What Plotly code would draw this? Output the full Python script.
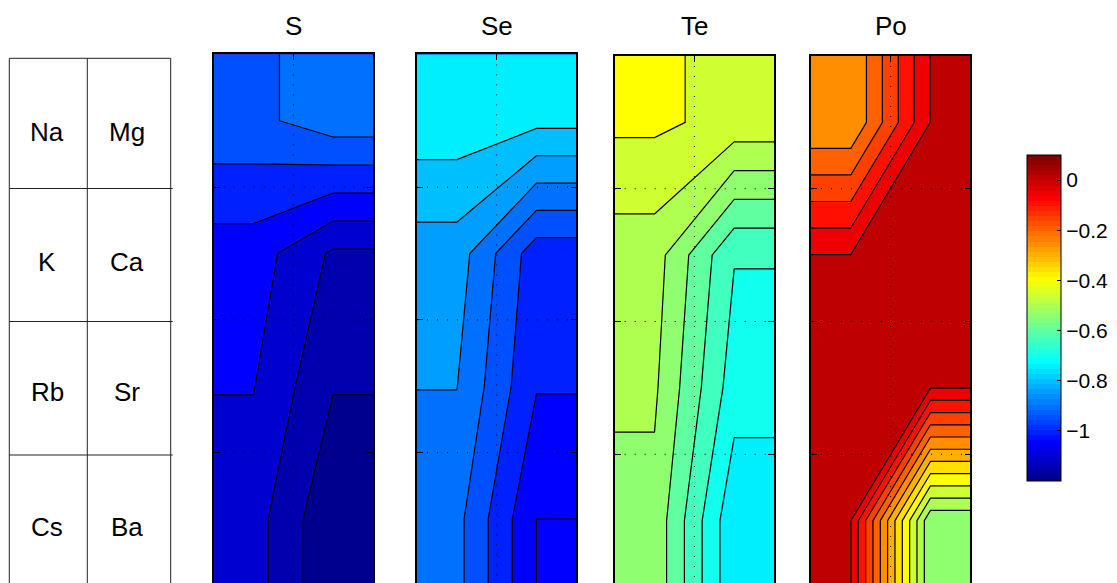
import numpy as np
import plotly.graph_objects as go

# ---- data -------------------------------------------------------------
ALKALI = ["Na", "K", "Rb", "Cs"]
ALKALINE_EARTH = ["Mg", "Ca", "Sr", "Ba"]
ANIONS = ["S", "Se", "Te", "Po"]

# one row per table row, columns = [alkali, alkaline earth]
S_VALUES = [[-0.914, -0.871],
            [-1.025, -1.108],
            [-1.048, -1.147],
            [-1.079, -1.193]]
SE_VALUES = [[-0.719, -0.736],
             [-0.825, -0.979],
             [-0.849, -0.997],
             [-0.885, -1.050]]
TE_VALUES = [[-0.390, -0.416],
             [-0.477, -0.647],
             [-0.492, -0.676],
             [-0.516, -0.740]]
PO_VALUES = [[-0.249, 0.001],
             [0.001, 0.020],
             [0.030, 0.001],
             [0.001, -0.542]]
PANEL_VALUES = [S_VALUES, SE_VALUES, TE_VALUES, PO_VALUES]

CMIN, CMAX = -1.2, 0.1
LEVEL_START, LEVEL_END, LEVEL_STEP = -1.2, 0.05, 0.05
COLORBAR_TICKS = [-1.0, -0.8, -0.6, -0.4, -0.2, 0.0]
GRID_X = [1.5]
GRID_Y = [1.5, 2.5, 3.5]

# ---- geometry (pixels) -------------------------------------------------
W, H = 1117, 583
PANEL_LEFT = [213.7, 417.0, 614.7, 811.0]
PANEL_TOP = [54.4, 54.4, 56.0, 56.0]
PANEL_WIDTH = 159.3
ROW_PX = 132.75
TITLE_Y = 26
TABLE_X = [9.3, 87.3, 170.7]
TABLE_Y = [58.3, 188.5, 321.5, 455.0]
TABLE_TEXT_X = [47.0, 126.5]
TABLE_TEXT_Y = [132.0, 261.5, 391.5, 526.5]
CB_LEFT, CB_TOP, CB_BOTTOM, CB_WIDTH = 1026.7, 155.0, 481.0, 34

FONT = "Liberation Sans, Arial, Helvetica, sans-serif"
EPS = 1e-9  # fills count a value equal to a level as above it; lines still trace it


def jet(m=64):
    """MATLAB-style jet colormap with m entries."""
    n = int(np.ceil(m / 4))
    u = np.concatenate([np.arange(1, n + 1) / n, np.ones(n - 1), np.arange(n, 0, -1) / n])
    g = int(np.ceil(n / 2)) - (1 if m % 4 == 1 else 0) + np.arange(1, len(u) + 1)
    r = g + n
    b = g - n
    cmap = np.zeros((m, 3))
    for col, idx in ((0, r), (1, g), (2, b)):
        ok = (idx >= 1) & (idx <= m)
        cmap[idx[ok] - 1, col] = u[ok]
    return cmap


def rgb(c):
    return "rgb(%d,%d,%d)" % tuple(int(round(255 * v)) for v in c)


JET = jet(64)


def jet_color(value):
    i = int(np.floor((value - CMIN) / (CMAX - CMIN) * 64 + 1e-9))
    return rgb(JET[min(max(i, 0), 63)])


# contour levels and the colour of each filled band (colour of its lower level)
n_levels = int(np.floor((LEVEL_END - LEVEL_START) / LEVEL_STEP + 1e-6)) + 1
levels = np.round(LEVEL_START + LEVEL_STEP * np.arange(n_levels), 6)
band_scale = [[0.0, jet_color(levels[0])]]
for k, lev in enumerate(levels):
    band_scale.append([(k + 1) / n_levels, jet_color(lev)])

# stepped colour scale for the colour bar
cb_scale = []
for i in range(64):
    c = rgb(JET[i])
    cb_scale += [[i / 64, c], [(i + 1) / 64, c]]

# cell-centred grid, padded with edge copies so the fill reaches the frame
x_centres = np.arange(1, 3)
y_centres = np.arange(1, 5)
X_GRID = np.concatenate([[x_centres[0] - 0.5], x_centres, [x_centres[-1] + 0.5]])
Y_GRID = np.concatenate([[y_centres[0] - 0.5], y_centres, [y_centres[-1] + 0.5]])


def padded(values):
    z = np.asarray(values, float)
    z = np.vstack([z[:1], z, z[-1:]])
    return np.hstack([z[:, :1], z, z[:, -1:]])


fig = go.Figure()
layout_axes = {}
annotations = []

for p, (name, values) in enumerate(zip(ANIONS, PANEL_VALUES)):
    sfx = "" if p == 0 else str(p + 1)
    xa, ya = "x" + sfx, "y" + sfx
    z = padded(values)
    # filled bands
    fig.add_trace(go.Contour(
        x=X_GRID, y=Y_GRID, z=z,
        autocontour=False,
        contours=dict(start=LEVEL_START - EPS, end=LEVEL_END - EPS, size=LEVEL_STEP,
                      coloring="fill", showlines=False),
        colorscale=band_scale, showscale=False,
        line=dict(width=0, smoothing=0),
        hoverinfo="skip", xaxis=xa, yaxis=ya,
    ))
    # black contour lines
    fig.add_trace(go.Contour(
        x=X_GRID, y=Y_GRID, z=z,
        autocontour=False,
        contours=dict(start=LEVEL_START + EPS, end=LEVEL_END + EPS, size=LEVEL_STEP,
                      coloring="none", showlines=True),
        showscale=False,
        line=dict(color="black", width=1.2, smoothing=0),
        hoverinfo="skip", xaxis=xa, yaxis=ya,
    ))
    # dotted grid drawn over the filled contours
    gx, gy = [], []
    for xv in GRID_X:
        gx += [xv, xv, None]
        gy += [Y_GRID[0], Y_GRID[-1], None]
    for yv in GRID_Y:
        gx += [X_GRID[0], X_GRID[-1], None]
        gy += [yv, yv, None]
    fig.add_trace(go.Scatter(
        x=gx, y=gy, mode="lines",
        line=dict(color="black", width=1, dash="1px,9px"),
        hoverinfo="skip", showlegend=False, xaxis=xa, yaxis=ya,
    ))

    left, top = PANEL_LEFT[p], PANEL_TOP[p]
    y_bottom = Y_GRID[0] + (H - top) / ROW_PX
    layout_axes["xaxis" + sfx] = dict(
        domain=[left / W, (left + PANEL_WIDTH) / W], range=[X_GRID[0], X_GRID[-1]],
        anchor=ya, side="top", showline=True, linecolor="black", linewidth=1.6,
        mirror=False, ticks="inside", ticklen=6, tickcolor="black",
        tickvals=GRID_X, showticklabels=False, showgrid=False, zeroline=False,
        fixedrange=True,
    )
    layout_axes["yaxis" + sfx] = dict(
        domain=[0, 1 - top / H], range=[y_bottom, Y_GRID[0]],
        anchor=xa, showline=True, linecolor="black", linewidth=1.6,
        mirror="ticks", ticks="inside", ticklen=6, tickcolor="black",
        tickvals=GRID_Y, showticklabels=False, showgrid=False, zeroline=False,
        fixedrange=True,
    )
    annotations.append(dict(
        text=name, x=(left + PANEL_WIDTH / 2) / W, y=1 - TITLE_Y / H,
        xref="paper", yref="paper", xanchor="center", yanchor="middle",
        showarrow=False, font=dict(family=FONT, size=26, color="black"),
    ))

# colour bar
fig.add_trace(go.Scatter(
    x=[None], y=[None], mode="markers", showlegend=False, hoverinfo="skip",
    xaxis="x4", yaxis="y4",
    marker=dict(color=[CMIN], cmin=CMIN, cmax=CMAX, colorscale=cb_scale,
                showscale=True,
                colorbar=dict(
                    x=CB_LEFT / W, xanchor="left", y=1 - CB_TOP / H, yanchor="top",
                    len=(CB_BOTTOM - CB_TOP) / H, lenmode="fraction",
                    thickness=CB_WIDTH, thicknessmode="pixels",
                    xpad=0, ypad=0, outlinewidth=1, outlinecolor="black",
                    tickvals=COLORBAR_TICKS, ticks="inside", ticklen=4,
                    tickcolor="black", tickwidth=1,
                    tickfont=dict(family=FONT, size=21, color="black"),
                )),
))

# element table on the left
shapes = []
line_style = dict(color="#222222", width=1)
for xv in TABLE_X:
    shapes.append(dict(type="line", xref="paper", yref="paper",
                       x0=xv / W, x1=xv / W, y0=1 - TABLE_Y[0] / H, y1=0,
                       line=line_style))
for i, yv in enumerate(TABLE_Y):
    x_end = TABLE_X[-1] if i == 0 else TABLE_X[-1] + 2
    shapes.append(dict(type="line", xref="paper", yref="paper",
                       x0=TABLE_X[0] / W, x1=x_end / W, y0=1 - yv / H, y1=1 - yv / H,
                       line=line_style))
for col, names in enumerate([ALKALI, ALKALINE_EARTH]):
    for row, el in enumerate(names):
        annotations.append(dict(
            text=el, x=TABLE_TEXT_X[col] / W, y=1 - TABLE_TEXT_Y[row] / H,
            xref="paper", yref="paper", xanchor="center", yanchor="middle",
            showarrow=False, font=dict(family=FONT, size=26, color="black"),
        ))

fig.update_layout(
    width=W, height=H,
    margin=dict(l=0, r=0, t=0, b=0, autoexpand=False),
    paper_bgcolor="white", plot_bgcolor="white",
    showlegend=False, annotations=annotations, shapes=shapes,
    **layout_axes,
)

fig.write_html("out.html")
